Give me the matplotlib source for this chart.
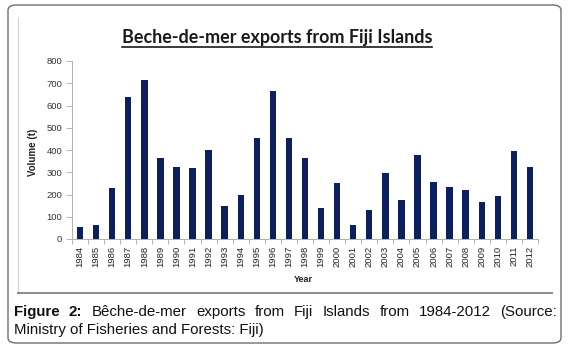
import matplotlib
matplotlib.use("Agg")
import matplotlib.pyplot as plt
from matplotlib.patches import FancyBboxPatch
from matplotlib.lines import Line2D

years = [str(y) for y in range(1984, 2013)]
volumes = [52, 65, 228, 638, 715, 365, 322, 318, 400, 148, 196, 453, 663, 452,
           362, 140, 250, 65, 130, 296, 174, 378, 256, 235, 218, 167, 195, 397, 324]
yticks = [0, 100, 200, 300, 400, 500, 600, 700, 800]

W, H = 569, 348
fig = plt.figure(figsize=(W / 100, H / 100), dpi=100)
fig.patch.set_facecolor("white")

def fx(px):
    return px / W

def fy(py):
    return 1 - py / H

# outer rounded box
box = FancyBboxPatch((fx(8), fy(343)), fx(561) - fx(8), fy(5) - fy(343),
                     boxstyle="round,pad=0,rounding_size=0.015",
                     transform=fig.transFigure, facecolor="none",
                     edgecolor="#6e6e6e", linewidth=1.0)
fig.patches.append(box)
# inner chart frame (left and bottom lines)
fig.lines.append(Line2D([fx(18), fx(18)], [fy(18), fy(293)], transform=fig.transFigure,
                        color="#cfcfcf", linewidth=0.8))
fig.lines.append(Line2D([fx(18), fx(552)], [fy(293), fy(293)], transform=fig.transFigure,
                        color="#8a8a8a", linewidth=1.4))

ax = fig.add_axes([fx(72), fy(239), fx(538) - fx(72), fy(61) - fy(239)])
x = list(range(len(years)))
ax.bar(x, volumes, width=0.4, color="#0c1f5e")
ax.set_xlim(-0.5, len(years) - 0.5)
ax.set_ylim(0, 800)
ax.set_yticks(yticks)
ax.set_yticklabels([str(v) for v in yticks], fontsize=6.8, color="#333333", family="Liberation Sans")
ax.set_xticks(x)
ax.set_xticklabels(years, rotation=90, fontsize=6.8, color="#222222", family="Liberation Sans")
ax.tick_params(axis="x", length=0, pad=5)
ax.tick_params(axis="y", length=4, width=0.6, color="#aaaaaa", pad=3)
ax.set_xticks([i + 0.5 for i in range(-1, len(years))], minor=True)
ax.tick_params(axis="x", which="minor", length=3.5, width=0.6, color="#aaaaaa")
for s in ["top", "right"]:
    ax.spines[s].set_visible(False)
for s in ["left", "bottom"]:
    ax.spines[s].set_color("#b0b0b0")
    ax.spines[s].set_linewidth(0.7)

fig.text(fx(33), fy(152), "Volume (t)", rotation=90, ha="center", va="center",
         fontsize=7, fontweight="bold", family="Liberation Sans", color="#222222")
fig.text(fx(303), fy(279), "Year", ha="center", va="center",
         fontsize=6.5, fontweight="bold", family="Liberation Sans", color="#222222")

title = fig.text(fx(277), fy(37), "Beche-de-mer exports from Fiji Islands", ha="center", va="center",
                 fontsize=12.9, fontweight="bold", family="Lato", color="#1a1a1a")

renderer = fig.canvas.get_renderer()
bb = title.get_window_extent(renderer)
ul_y = bb.y0 - 1.0
fig.lines.append(Line2D([bb.x0 / W, bb.x1 / W], [ul_y / H, ul_y / H], transform=fig.transFigure,
                        color="#1a1a1a", linewidth=1.2))

# caption, justified first line
cap_fs = 10.8
line1 = [("Figure", "bold"), ("2:", "bold"), ("Bêche-de-mer", "normal"), ("exports", "normal"),
         ("from", "normal"), ("Fiji", "normal"), ("Islands", "normal"), ("from", "normal"),
         ("1984-2012", "normal"), ("(Source:", "normal")]
x_left, x_right = 14, 557
texts = []
widths = []
for w, wt in line1:
    t = fig.text(0, fy(312), w, ha="left", va="center", fontsize=cap_fs, fontweight=wt,
                 family="Liberation Sans", color="#111111")
    texts.append(t)
    widths.append(t.get_window_extent(renderer).width)
gap = ((x_right - x_left) - sum(widths)) / (len(widths) - 1)
cur = x_left
for t, wd in zip(texts, widths):
    t.set_x(cur / W)
    cur += wd + gap
fig.text(fx(14), fy(330), "Ministry of Fisheries and Forests: Fiji)", ha="left", va="center",
         fontsize=cap_fs, family="Liberation Sans", color="#111111")

fig.savefig("out.png", dpi=100)
